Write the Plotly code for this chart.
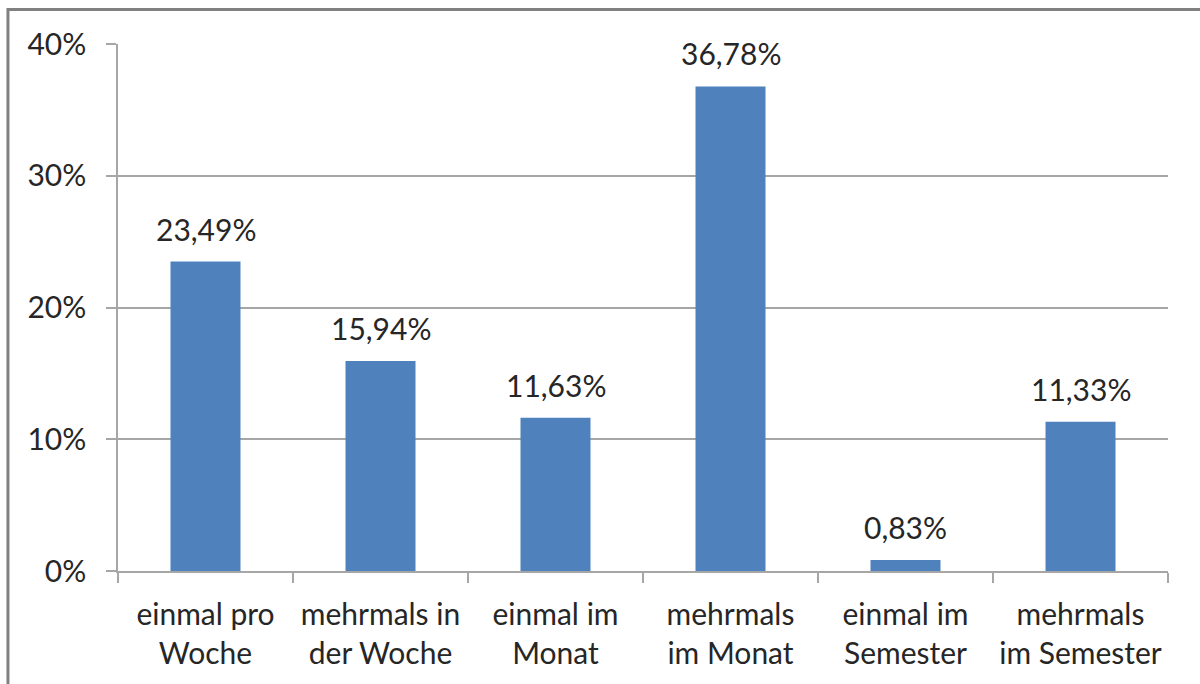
import plotly.graph_objects as go

categories = ["einmal pro<br>Woche", "mehrmals in<br>der Woche", "einmal im<br>Monat",
              "mehrmals<br>im Monat", "einmal im<br>Semester", "mehrmals<br>im Semester"]
values = [23.49, 15.94, 11.63, 36.78, 0.83, 11.33]
y_ticks = [0, 10, 20, 30, 40]
y_tick_labels = ["0%", "10%", "20%", "30%", "40%"]

FONT = "Lato"
FS = 30
TXT = "#262626"
GRID = "#A6A6A6"

fig = go.Figure()
fig.add_trace(go.Bar(
    x=categories, y=values,
    marker=dict(color="#4F81BD", line=dict(width=0)),
    width=0.4,
    hoverinfo="skip",
))

for c, v in zip(categories, values):
    fig.add_annotation(
        x=c, y=v, text=f"{v:.2f}".replace(".", ",") + "%",
        showarrow=False, yanchor="bottom", yshift=13,
        font=dict(family=FONT, size=FS, color=TXT),
    )

fig.update_layout(
    width=1200, height=684,
    margin=dict(l=118, r=32, t=44, b=113),
    paper_bgcolor="white", plot_bgcolor="white",
    showlegend=False,
    bargap=0.6,
    font=dict(family=FONT, size=FS, color=TXT),
    separators=",.",
    shapes=[dict(type="rect", xref="paper", yref="paper",
                 x0=-0.1048, x1=1.06, y0=-0.3, y1=1.0655,
                 line=dict(color="#808080", width=3), layer="above")],
)
fig.update_xaxes(
    type="category", showgrid=False, showline=True, linecolor=GRID, linewidth=1.5,
    ticks="outside", tickson="boundaries", ticklen=10, tickcolor=GRID, tickwidth=1.5,
    ticklabelstandoff=16,
    tickfont=dict(family=FONT, size=FS, color=TXT),
)
fig.update_yaxes(
    range=[0, 40], tickvals=y_ticks, ticktext=y_tick_labels,
    showgrid=True, gridcolor=GRID, gridwidth=1.5,
    showline=True, linecolor=GRID, linewidth=1.5,
    ticks="outside", ticklen=10, tickcolor=GRID, tickwidth=1.5,
    zeroline=False, ticklabelstandoff=14,
    tickfont=dict(family=FONT, size=FS, color=TXT),
)

fig.write_html("out.html")
